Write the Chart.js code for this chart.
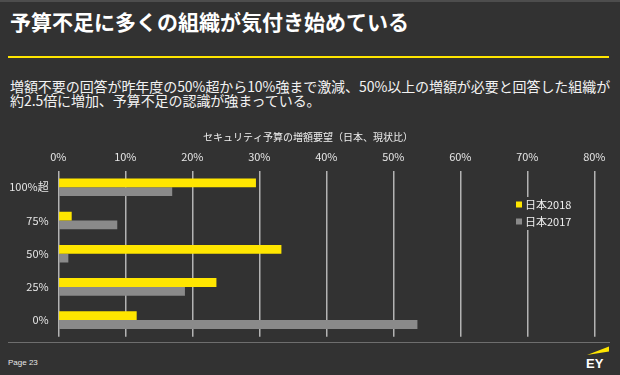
<!DOCTYPE html>
<html lang="ja">
<head>
<meta charset="utf-8">
<script src="https://cdn.jsdelivr.net/npm/chart.js@4/dist/chart.umd.min.js"></script>
<style>
  html, body { margin: 0; padding: 0; }
  body {
    width: 620px; height: 375px; overflow: hidden; position: relative;
    background: #323232; font-family: 'Noto Sans CJK JP', sans-serif; color: #fff;
  }
  .edge-top { position: absolute; left: 0; top: 0; width: 620px; height: 2px; background: #4d4d4d; }
  .title {
    position: absolute; left: 10px; top: 11px; font-size: 21px; line-height: 21px;
    font-weight: bold; white-space: nowrap; color: #fff;
  }
  .rule { position: absolute; left: 8px; top: 56px; width: 601px; height: 2px; background: #ffe600; }
  .lead {
    position: absolute; left: 10px; top: 79px; font-size: 14px; line-height: 14px;
    letter-spacing: -0.07px; white-space: nowrap; color: #f2f2f2;
  }
  #chartBox { position: absolute; left: 0; top: 120px; width: 620px; height: 222px; }
  .foot-rule { position: absolute; left: 8px; top: 342px; width: 602px; height: 1px; background: #6e6e6e; }
  .page {
    position: absolute; left: 8px; top: 357px; font-family: 'Liberation Sans', Arial, sans-serif;
    font-size: 8px; line-height: 11px; color: #e6e6e6;
  }
  .logo { position: absolute; left: 584px; top: 344px; }
</style>
</head>
<body>
<div class="edge-top"></div>
<div class="title">予算不足に多くの組織が気付き始めている</div>
<div class="rule"></div>
<div class="lead">増額不要の回答が昨年度の50%超から10%強まで激減、50%以上の増額が必要と回答した組織が<br>約2.5倍に増加、予算不足の認識が強まっている。</div>
<div id="chartBox"><canvas id="budgetChart" width="620" height="222"></canvas></div>
<div class="foot-rule"></div>
<div class="page">Page 23</div>
<svg class="logo" width="30" height="28" viewBox="0 0 30 28">
  <polygon points="3,11 25,2.5 25,7.5" fill="#ffe600"/>
  <text x="2" y="24" font-family="Liberation Sans, Arial, sans-serif" font-weight="bold" font-size="13" fill="#fff">EY</text>
</svg>
<script>
const ctx = document.getElementById('budgetChart').getContext('2d');

// 増額要望の区分(上から順に)
const categories = ['100%超', '75%', '50%', '25%', '0%'];
// 回答割合 (%)
const japan2018 = [29.5, 2.0, 33.3, 23.6, 11.7];
const japan2017 = [17.0, 8.8, 1.5, 18.9, 53.6];
const seriesNames = ['日本2018', '日本2017'];
const seriesColors = ['#ffe600', '#8a8a8a'];
const chartTitle = 'セキュリティ予算の増額要望（日本、現状比）';
const axisMin = 0;
const axisMax = 80;
const axisStep = 10;

Chart.defaults.font.family = "'Noto Sans CJK JP', sans-serif";
Chart.defaults.color = '#e6e6e6';

// title is centred on the slide, not on the plot, so draw it here
const slideTitle = {
    id: 'slideTitle',
    afterDraw(chart) {
        const c = chart.ctx;
        c.save();
        c.font = "10px 'Noto Sans CJK JP', sans-serif";
        c.fillStyle = '#f0f0f0';
        c.textAlign = 'center';
        c.textBaseline = 'middle';
        c.fillText(chartTitle, 308, 17);
        c.restore();
    }
};

// legend sits on top of the plot, so draw it by hand
const floatingLegend = {
    id: 'floatingLegend',
    afterDraw(chart) {
        const c = chart.ctx;
        c.save();
        c.fillStyle = '#323232';
        c.fillRect(514, 77, 62, 33);
        c.font = "11px 'Noto Sans CJK JP', sans-serif";
        c.textBaseline = 'middle';
        chart.data.datasets.forEach((ds, i) => {
            const y = 84.5 + i * 17;
            c.fillStyle = ds.backgroundColor;
            c.fillRect(516, y - 3, 6, 6);
            c.fillStyle = '#f0f0f0';
            c.fillText(ds.label, 525, y);
        });
        c.restore();
    }
};

const budgetChart = new Chart(ctx, {
    type: 'bar',
    data: {
        labels: categories,
        datasets: [
            {
                label: seriesNames[0],
                data: japan2018,
                backgroundColor: seriesColors[0],
                barPercentage: 1,
                categoryPercentage: 0.53
            },
            {
                label: seriesNames[1],
                data: japan2017,
                backgroundColor: seriesColors[1],
                barPercentage: 1,
                categoryPercentage: 0.53
            }
        ]
    },
    options: {
        indexAxis: 'y',
        responsive: false,
        animation: false,
        layout: {
            padding: { left: 0, right: 25.7, top: 28.7, bottom: 5.3 }
        },
        scales: {
            x: {
                position: 'top',
                min: axisMin,
                max: axisMax,
                border: { display: false },
                grid: { color: '#b3b3b3', lineWidth: 1.5, drawTicks: false },
                ticks: {
                    stepSize: axisStep,
                    padding: 7.4,
                    color: '#e6e6e6',
                    font: { size: 11 },
                    callback: v => v + '%'
                },
                afterFit: scale => { scale.height = 22; }
            },
            y: {
                border: { display: false },
                grid: { display: false, drawTicks: false },
                ticks: {
                    padding: 9.6,
                    color: '#e6e6e6',
                    font: { size: 11 }
                },
                afterFit: scale => {
                    scale.width = 58.3;
                    scale.paddingTop = 0;
                    scale.paddingBottom = 0;
                }
            }
        },
        plugins: {
            legend: { display: false },
            tooltip: { enabled: false },
            title: { display: false }
        }
    },
    plugins: [slideTitle, floatingLegend]
});
</script>
</body>
</html>
